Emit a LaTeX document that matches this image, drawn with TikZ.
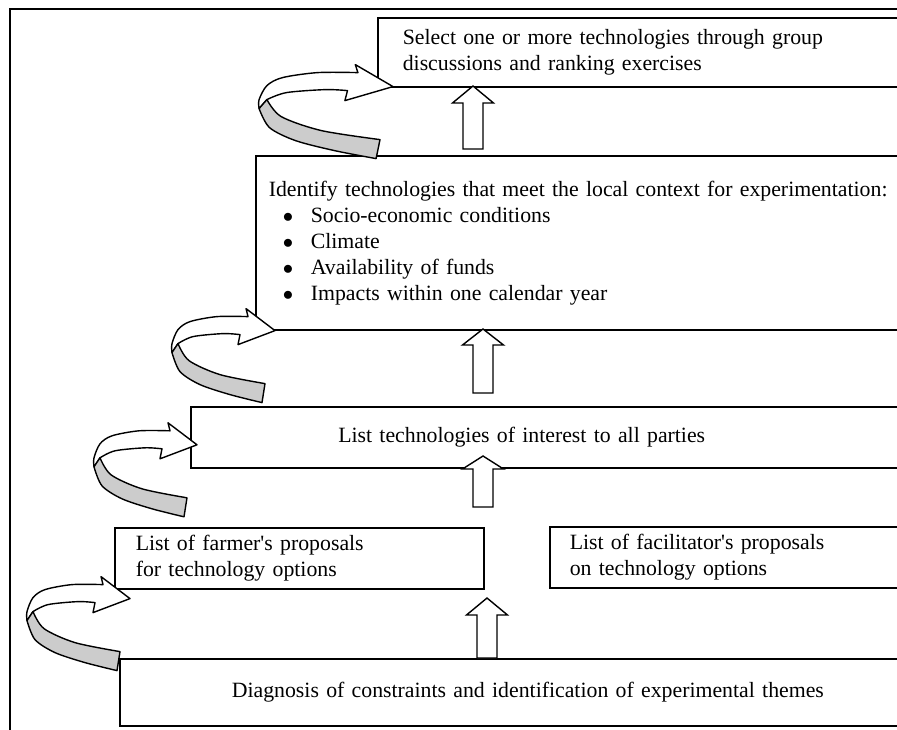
\documentclass[tikz,border=0pt]{standalone}
\usepackage{fontspec}
\setmainfont{Liberation Serif}
\usetikzlibrary{positioning, calc}

% ribbon arrow that curls round to the left; #1 = tip, #2 = horizontal stretch
\newcommand{\curlarrow}[2]{%
  \begin{scope}[shift={(#1)}, xscale=#2]
    \filldraw[curlfront] (0,0) -- (-29,-22) -- (-27,-14)
      -- plot[smooth] coordinates {(-27,-14) (-58,-14) (-85,-9) (-97,-1) (-103,13) (-103,22)}
      -- (-97,13)
      -- plot[smooth] coordinates {(-97,13) (-82,6) (-52,3) (-35,4)}
      -- (-37,14) -- cycle;
    \filldraw[curlback] (-97,13)
      -- plot[smooth] coordinates {(-97,13) (-86,30) (-55,44) (-10,53)}
      -- (-13,72)
      -- plot[smooth] coordinates {(-13,72) (-45,64) (-75,54) (-95,41) (-103,22)}
      -- cycle;
  \end{scope}}

% hollow block arrow pointing up; #1 = base, #2 = tip, #3 = head length
\newcommand{\blockup}[3]{%
  \filldraw[blockarrow] ($(#1)+(-10,0)$) -- ($(#2)+(-10,#3)$) -- ($(#2)+(-20.5,#3)$)
    -- (#2) -- ($(#2)+(20.5,#3)$) -- ($(#2)+(10,#3)$) -- ($(#1)+(10,0)$) -- cycle;}

\newcommand{\itembullet}{\hspace*{14pt}\makebox[28pt][l]{$\bullet$}}

\begin{document}
\begin{tikzpicture}[
    x=1pt, y=-1pt,
    box/.style={draw, line width=1.6pt, fill=white, anchor=north west, align=left,
      inner ysep=0pt, font=\fontsize{21.8}{25.5}\selectfont},
    blockarrow/.style={draw, fill=white, line width=1.4pt, line join=miter},
    curlfront/.style={draw, fill=white, line width=1.4pt, line join=round},
    curlback/.style={draw, fill=gray!40, line width=1.4pt, line join=round},
    frame/.style={draw, line width=1.6pt}
]
    \useasboundingbox (0,0) rectangle (897,729);
    \clip (0,0) rectangle (897,729);

    % Outer frame
    \draw[frame] (10,9) rectangle (940,760);

    % Boxes
    \node[box, text width=510pt, inner xsep=25pt, minimum height=69pt] (select) at (377,17)
      {Select one or more technologies through group\\discussions and ranking exercises};
    \node[box, text width=674pt, inner xsep=13pt, minimum height=174pt,
      font=\fontsize{21.8}{26}\selectfont] (identify) at (255,155)
      {Identify technologies that meet the local context for experimentation:\\
       \itembullet Socio-economic conditions\\
       \itembullet Climate\\
       \itembullet Availability of funds\\
       \itembullet Impacts within one calendar year};
    \node[box, text width=465pt, inner xsep=147.5pt, minimum height=61pt] (list) at (190,406)
      {List technologies of interest to all parties};
    \node[box, text width=327pt, inner xsep=21pt, minimum height=61pt] (farmer) at (114,527)
      {List of farmer\textquotesingle s proposals\\for technology options};
    \node[box, text width=360pt, inner xsep=20pt, minimum height=61pt] (facilitator) at (549,526)
      {List of facilitator\textquotesingle s proposals\\on technology options};
    \node[box, text width=608pt, inner xsep=112pt, minimum height=67pt] (diagnosis) at (119,658)
      {Diagnosis of constraints and identification of experimental themes};

    % Up arrows
    \coordinate (upAtip) at (473,86);  \coordinate (upAbase) at (473,149);
    \coordinate (upBtip) at (483,329); \coordinate (upBbase) at (483,393);
    \coordinate (upCtip) at (483,456); \coordinate (upCbase) at (483,507);
    \coordinate (upDtip) at (487,598); \coordinate (upDbase) at (487,658);
    \blockup{upAbase}{upAtip}{17}
    \blockup{upBbase}{upBtip}{16}
    \blockup{upCbase}{upCtip}{13}
    \blockup{upDbase}{upDtip}{17}

    % Curled arrows on the left
    \coordinate (tipA) at ($(select.south west)+(16,-1)$);
    \coordinate (tipB) at ($(identify.south west)+(20,0)$);
    \coordinate (tipC) at ($(list.west)+(7,7.5)$);
    \coordinate (tipD) at ($(farmer.south west)+(16,9)$);
    \curlarrow{tipA}{1.3}
    \curlarrow{tipB}{1}
    \curlarrow{tipC}{1}
    \curlarrow{tipD}{1}
\end{tikzpicture}
\end{document}
